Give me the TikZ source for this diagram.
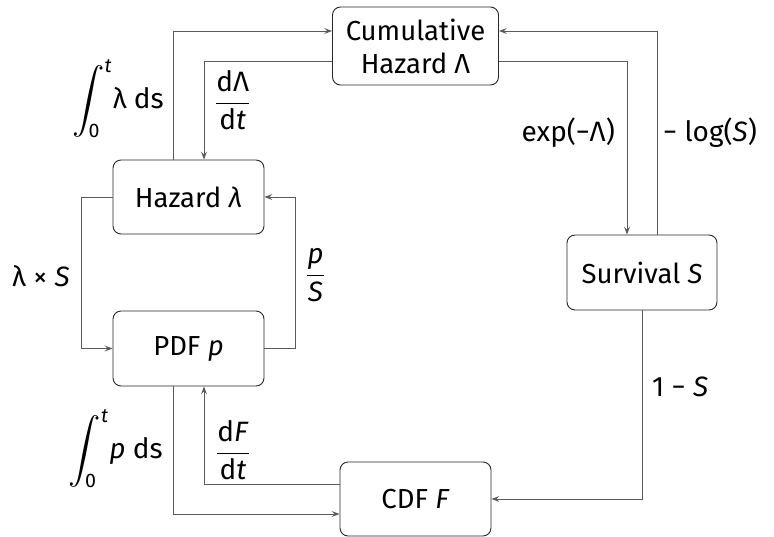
\RequirePackage{fix-cm}
\documentclass[tikz,border=0pt]{standalone}
\usepackage{amsmath}
\usepackage{graphicx}
\usepackage{fontspec}
\setmainfont{Fira Sans}
\usetikzlibrary{arrows.meta}
\definecolor{linec}{RGB}{90,90,90}
\definecolor{boxc}{RGB}{40,40,40}
\newcommand{\myint}{\mathop{\vcenter{\hbox{\scalebox{1.3}{$\displaystyle\intop$}}}}\nolimits}
\tikzset{
  box/.style={draw=boxc, line width=0.9pt, rounded corners=8pt, inner sep=0pt, align=center, font=\fontsize{27.5}{33}\selectfont},
  conn/.style={draw=linec, line width=1pt, -{Stealth[length=8pt,width=6pt,inset=3pt]}},
  lab/.style={inner sep=0pt, font=\fontsize{28}{33}\selectfont}
}
\begin{document}
\begin{tikzpicture}[x=1pt,y=-1pt]
\useasboundingbox (0,0) rectangle (774,536);
\node[box, minimum width=166pt, minimum height=78pt] (cum) at (415.5,46) {Cumulative\\Hazard Λ};
\node[box, minimum width=151pt, minimum height=74pt] (haz) at (188.5,197) {Hazard \textit{λ}};
\node[box, minimum width=151pt, minimum height=75pt] (pdf) at (188.5,348.5) {PDF \textit{p}};
\node[box, minimum width=150pt, minimum height=75pt] (surv) at (642,272.5) {Survival \textit{S}};
\node[box, minimum width=151pt, minimum height=74pt] (cdf) at (415.5,499) {CDF \textit{F}};

\draw[conn] ([xshift=-15.5pt]haz.north) |- ([yshift=15pt]cum.west);
\draw[conn] ([yshift=-15pt]cum.west) -| ([xshift=15.5pt]haz.north);
\draw[conn] ([yshift=-15pt]cum.east) -| ([xshift=-15pt]surv.north);
\draw[conn] ([xshift=15pt]surv.north) |- ([yshift=15pt]cum.east);
\draw[conn] (haz.west) -- ([xshift=-31pt]haz.west) |- (pdf.west);
\draw[conn] (pdf.east) -- ([xshift=31pt]pdf.east) |- (haz.east);
\draw[conn] ([xshift=-15.5pt]pdf.south) |- ([yshift=-15pt]cdf.west);
\draw[conn] ([yshift=15pt]cdf.west) -| ([xshift=15.5pt]pdf.south);
\draw[conn] (surv.south) |- (cdf.east);

\node[lab, anchor=east] (l1) at (164,99) {$\displaystyle\myint_{\kern-16pt\text{0}}^{\textit{t}}\kern-4pt\text{λ ds}$};
\node[lab, anchor=west] (l2) at (215,100) {$\dfrac{\text{dΛ}}{\text{d}\textit{t}}$};
\node[lab, anchor=east] (l3) at (615,133) {exp(−Λ)};
\node[lab, anchor=west] (l4) at (663,133) {− log(\textit{S})};
\node[lab, anchor=east] (l5) at (70,276) {λ × \textit{S}};
\node[lab, anchor=west] (l6) at (306,275) {$\dfrac{\textit{p}}{\textit{S}}$};
\node[lab, anchor=east] (l7) at (163,449) {$\displaystyle\myint_{\kern-16pt\text{0}}^{\textit{t}}\kern-4pt\text{\textit{p} ds}$};
\node[lab, anchor=west] (l8) at (216,450) {$\dfrac{\text{d\textit{F}}}{\text{d}\textit{t}}$};
\node[lab, anchor=west] (l9) at (652,387) {1 − \textit{S}};
\end{tikzpicture}
\end{document}
